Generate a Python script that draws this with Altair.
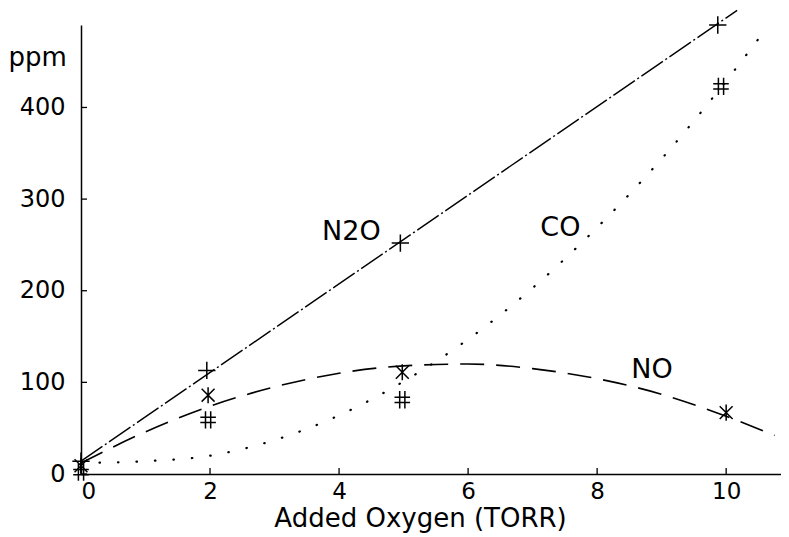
import altair as alt
import pandas as pd

# Measured points (markers)
n2o_x = [0, 1.95, 4.95, 9.87]
n2o_y = [14, 113, 252, 490]
no_x = [0, 1.97, 4.98, 10.0]
no_y = [9, 86, 111, 67]
co_x = [0, 1.97, 4.98, 9.92]
co_y = [2, 59, 81, 423]

# Fitted curves
n2o_line_x = [0, 10.17]
n2o_line_y = [14, 506]
no_curve_x = [0, 1, 2, 3, 4, 5, 6, 7, 8, 9, 10, 10.75]
no_curve_y = [12, 46, 74, 95, 110, 118, 120, 115, 104, 87, 63, 42]
co_curve_x = [0, 1, 2, 3, 4, 5, 6, 7, 8, 9, 10, 10.6]
co_curve_y = [12, 14, 20, 37, 64, 101, 147, 203, 269, 344, 429, 484]

# Curve labels
label_text = ["N2O", "CO", "NO"]
label_x = [4.19, 7.43, 8.85]
label_y = [264, 268, 113]

x_ticks = [0, 2, 4, 6, 8, 10]
y_ticks = [0, 100, 200, 300, 400]

W, H = 700, 449
FONT = "DejaVu Sans"

xs = alt.Scale(domain=[0, 10.85], nice=False, zero=False)
ys = alt.Scale(domain=[0, 490], nice=False, zero=False)

XA = alt.Axis(
    values=x_ticks, title="Added Oxygen (TORR)", labelFlush=True,
    labelPadding=6, titleX=339, titleY=52, titleAlign="center",
    titleBaseline="alphabetic", titleFontSize=26, labelFontSize=23,
)
YA = alt.Axis(
    values=y_ticks, title="ppm", titleAngle=0, titleX=-73, titleY=40,
    titleAlign="left", titleBaseline="alphabetic", titleFontSize=26,
    labelPadding=16, labelFontSize=24,
)

def enc(ch):
    return ch.encode(
        x=alt.X("x:Q", scale=xs, axis=XA),
        y=alt.Y("y:Q", scale=ys, axis=YA),
    )

def line_layer(xv, yv, **style):
    df = pd.DataFrame({"x": xv, "y": yv, "o": list(range(len(xv)))})
    return enc(alt.Chart(df).mark_line(color="black", interpolate="monotone", **style)).encode(order="o:Q")

PLUS = "M-1,0L1,0M0,-1L0,1"
STAR = "M-0.8,-0.8L0.8,0.8M-0.8,0.8L0.8,-0.8M0,-1L0,1"
HASH = "M-0.3,-1L-0.3,1M0.3,-1L0.3,1M-0.9,-0.3L0.9,-0.3M-0.9,0.3L0.9,0.3"

def point_layer(xv, yv, shape, size):
    df = pd.DataFrame({"x": xv, "y": yv})
    return enc(alt.Chart(df).mark_point(
        shape=shape, size=size, filled=False, color="black", strokeWidth=1.5, opacity=1
    ))

xt = alt.Chart(pd.DataFrame({"x": x_ticks})).mark_rule(color="black", strokeWidth=1.3).encode(
    x=alt.X("x:Q", scale=xs, axis=XA), y=alt.value(H), y2=alt.value(H - 6)
)
yt = alt.Chart(pd.DataFrame({"y": y_ticks})).mark_rule(color="black", strokeWidth=1.3).encode(
    y=alt.Y("y:Q", scale=ys, axis=YA), x=alt.value(0), x2=alt.value(6)
)

labels = enc(alt.Chart(pd.DataFrame({"t": label_text, "x": label_x, "y": label_y})).mark_text(
    font=FONT, fontSize=27, color="black", align="center", baseline="middle"
)).encode(text="t:N")

chart = alt.layer(
    line_layer(n2o_line_x, n2o_line_y, strokeWidth=1.4, strokeDash=[26, 3, 2, 3]),
    line_layer(no_curve_x, no_curve_y, strokeWidth=1.6, strokeDash=[24, 12]),
    line_layer(co_curve_x, co_curve_y, strokeWidth=2.2, strokeDash=[0.5, 18], strokeCap="round"),
    point_layer(n2o_x, n2o_y, PLUS, 300),
    point_layer(no_x, no_y, STAR, 260),
    point_layer(co_x, co_y, HASH, 300),
    labels,
    xt,
    yt,
).properties(
    width=W, height=H,
    autosize=alt.AutoSizeParams(type="none"),
    padding={"left": 73, "top": 17, "right": 0, "bottom": 63},
    background="white",
).configure_view(stroke=None).configure_axis(
    grid=False, domainColor="black", domainWidth=1.5, tickSize=0,
    labelFont=FONT, titleFont=FONT, labelColor="black", titleColor="black",
    titleFontWeight="normal",
)

chart.save("out.html", embed_options={"renderer": "svg", "actions": False})
